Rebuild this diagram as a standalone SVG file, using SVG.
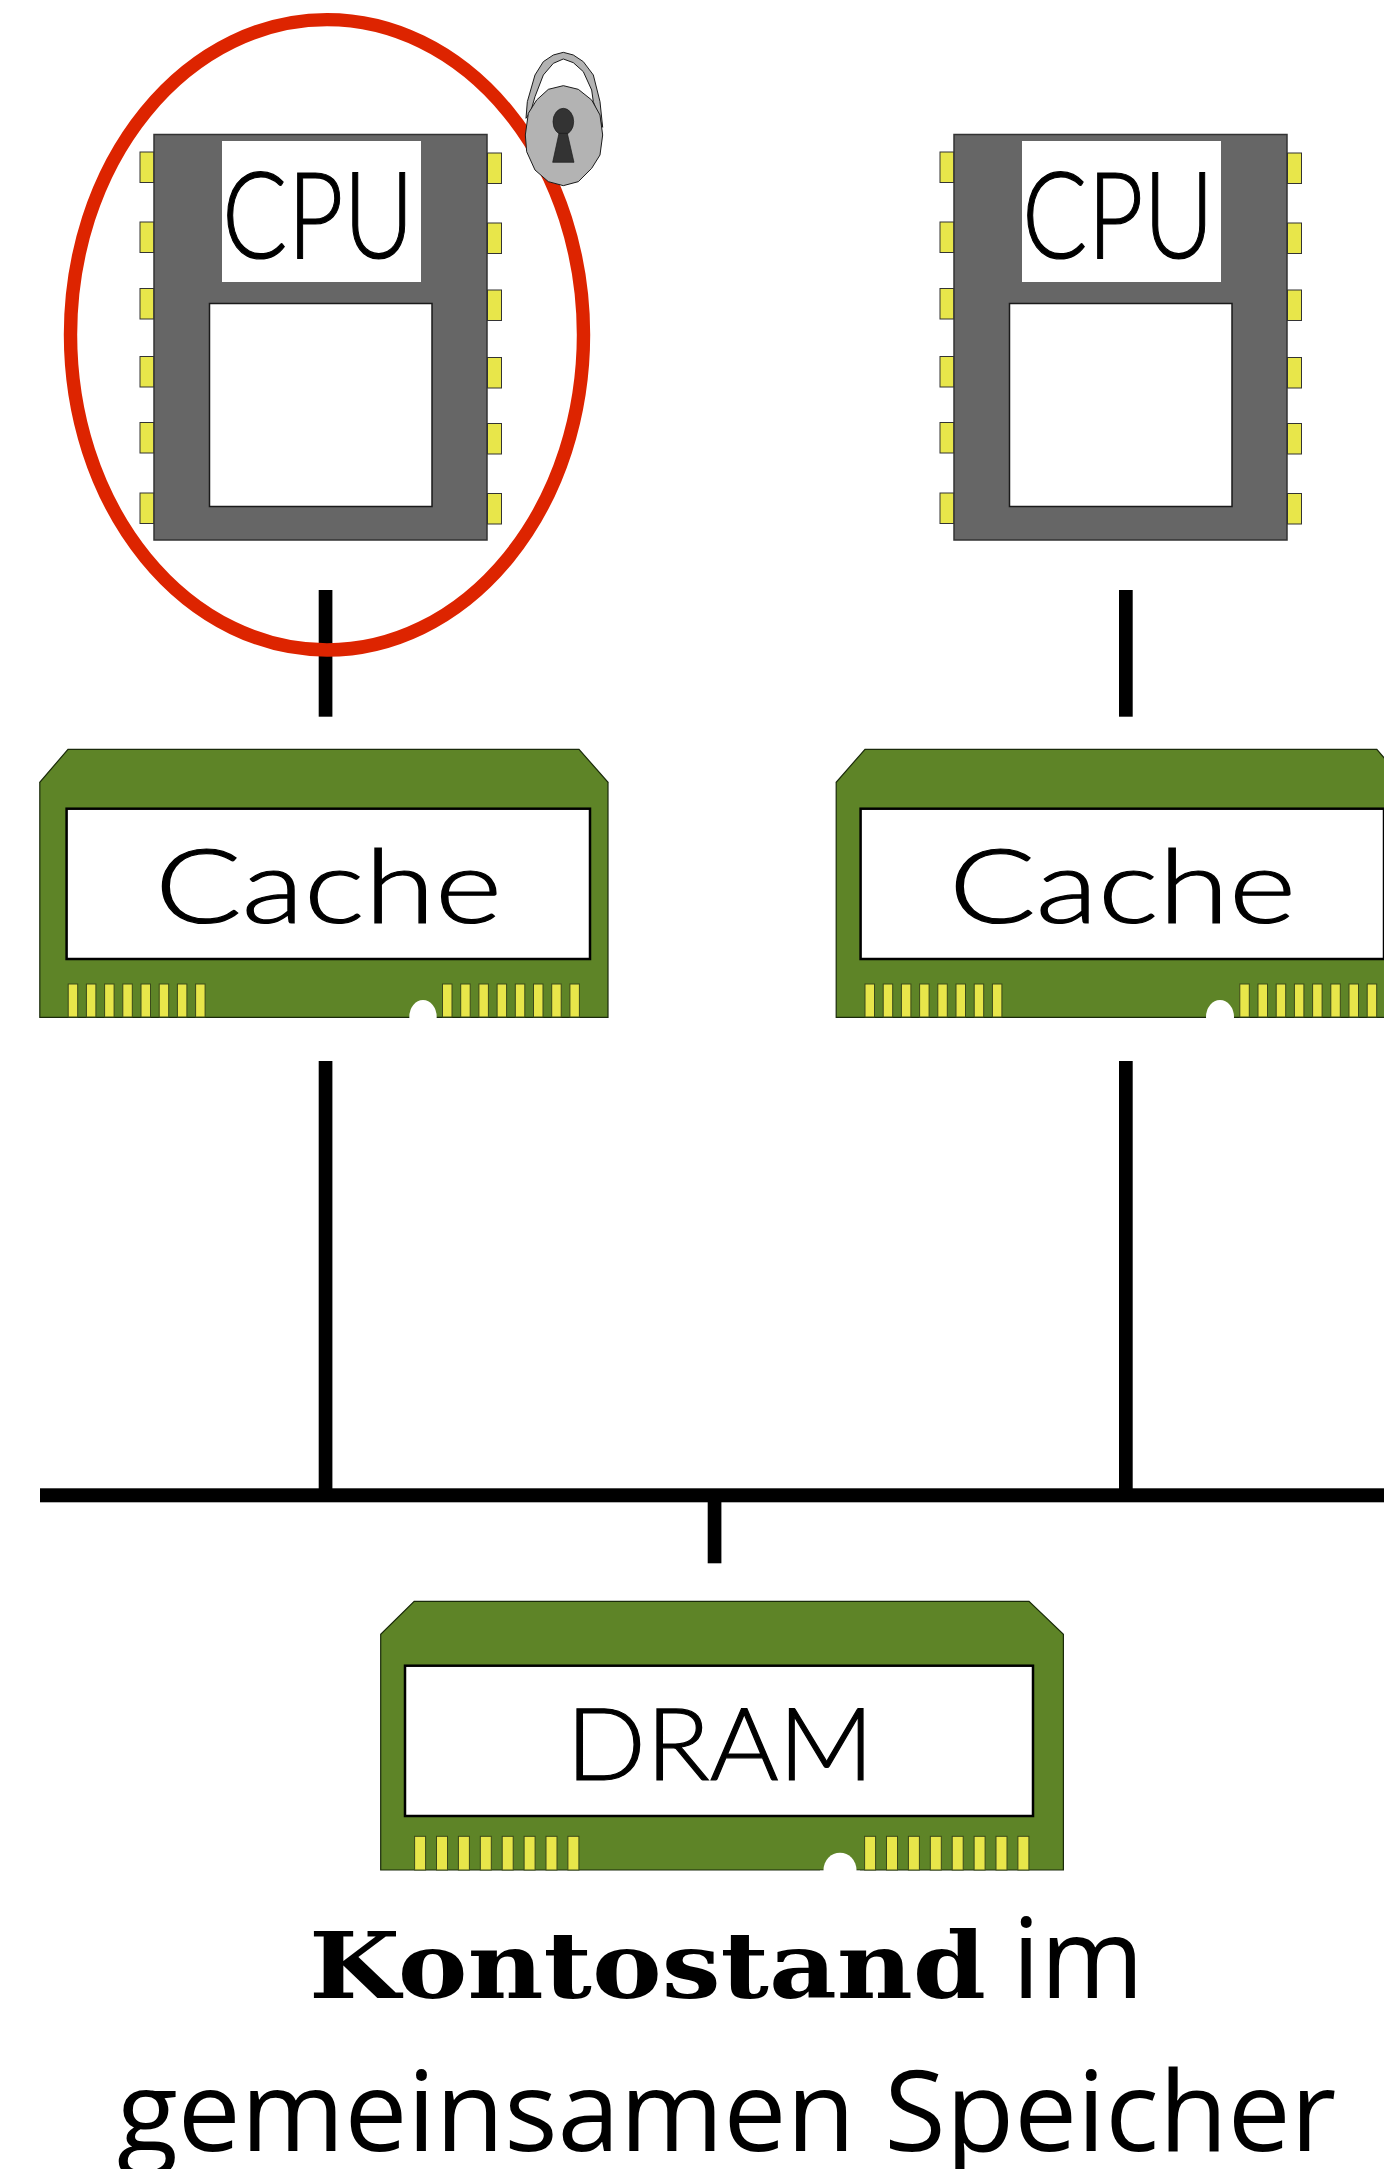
<svg xmlns="http://www.w3.org/2000/svg" width="1384" height="2169" viewBox="0 0 1384 2169">
<style>
.body{fill:#666666;stroke:#333333;stroke-width:1.5}
.pin{fill:#e8e64a;stroke:#333333;stroke-width:1}
.win{fill:#ffffff;stroke:#1a1a1a;stroke-width:1.5}
.board{fill:#5e8427;stroke:#1a2a0a;stroke-width:1.2}
.panel{fill:#ffffff;stroke:#000000;stroke-width:2.5}
.gpin{fill:#e8e64a;stroke:#3a4a1a;stroke-width:1}
.bus{fill:#000000}
.lbl{font-family:"Lato","Liberation Sans",sans-serif;fill:#000000;stroke:#000000;stroke-width:1.2;font-weight:300}
.cap{font-size:112px;font-family:"Open Sans","Noto Sans",sans-serif;fill:#000000}
.mono{font-family:"DejaVu Serif","Liberation Mono",serif;font-weight:700;font-size:91px;fill:#000000}
</style>
<defs>
<g id="cpu">
<rect class="pin" x="140" y="152" width="14" height="30.5"/><rect class="pin" x="140" y="222" width="14" height="30.5"/><rect class="pin" x="140" y="288.5" width="14" height="30.5"/><rect class="pin" x="140" y="356.5" width="14" height="30.5"/><rect class="pin" x="140" y="422.5" width="14" height="30.5"/><rect class="pin" x="140" y="493" width="14" height="30.5"/>
<rect class="pin" x="487.5" y="153" width="14" height="30.5"/><rect class="pin" x="487.5" y="223" width="14" height="30.5"/><rect class="pin" x="487.5" y="290" width="14" height="30.5"/><rect class="pin" x="487.5" y="357.5" width="14" height="30.5"/><rect class="pin" x="487.5" y="423.5" width="14" height="30.5"/><rect class="pin" x="487.5" y="493.5" width="14" height="30.5"/>
<rect class="body" x="154" y="134.5" width="333" height="405.5"/>
<rect x="222" y="141" width="199" height="141" fill="#ffffff"/>
<rect class="win" x="209.5" y="303.5" width="222.5" height="203"/>
</g>
<g id="cachepins">
<rect class="gpin" x="0" y="0" width="9.5" height="33"/><rect class="gpin" x="18.2" y="0" width="9.5" height="33"/><rect class="gpin" x="36.4" y="0" width="9.5" height="33"/><rect class="gpin" x="54.6" y="0" width="9.5" height="33"/><rect class="gpin" x="72.8" y="0" width="9.5" height="33"/><rect class="gpin" x="91" y="0" width="9.5" height="33"/><rect class="gpin" x="109.2" y="0" width="9.5" height="33"/><rect class="gpin" x="127.4" y="0" width="9.5" height="33"/>
</g>
<g id="drampins">
<rect class="gpin" x="0" y="0" width="11" height="33.7"/><rect class="gpin" x="21.9" y="0" width="11" height="33.7"/><rect class="gpin" x="43.8" y="0" width="11" height="33.7"/><rect class="gpin" x="65.7" y="0" width="11" height="33.7"/><rect class="gpin" x="87.6" y="0" width="11" height="33.7"/><rect class="gpin" x="109.5" y="0" width="11" height="33.7"/><rect class="gpin" x="131.4" y="0" width="11" height="33.7"/><rect class="gpin" x="153.3" y="0" width="11" height="33.7"/>
</g>
</defs>
<g id="connectors">
<rect class="bus" x="318.7" y="590" width="13.7" height="126.7"/>
<rect class="bus" x="1119" y="590" width="13.7" height="126.7"/>
<rect class="bus" x="318.7" y="1061" width="13.7" height="434"/>
<rect class="bus" x="1119" y="1061" width="13.7" height="434"/>
<rect class="bus" x="40" y="1488.3" width="1344" height="14"/>
<rect class="bus" x="707.7" y="1500" width="13.7" height="63.3"/>
</g>
<g id="cpu1">
<use href="#cpu"/>
<text class="lbl" x="222" y="258" font-size="120" textLength="192" lengthAdjust="spacingAndGlyphs">CPU</text>
</g>
<g id="cpu2">
<use href="#cpu" x="800"/>
<text class="lbl" x="1022" y="258" font-size="120" textLength="192" lengthAdjust="spacingAndGlyphs">CPU</text>
</g>
<g id="highlight">
<ellipse cx="327" cy="334.8" rx="256.5" ry="315.2" fill="none" stroke="#dd2400" stroke-width="13.4"/>
</g>
<g id="lock" transform="translate(510 40) scale(0.3333)">
<path d="M48 235L52 185L75 105L100 65L130 45L160 37L190 45L220 65L250 105L270 185L278 262L250 185L245 150L220 95L190 68L160 57L130 70L100 105L75 170L62 215Z" fill="#b3b3b3" stroke="#1a1a1a" stroke-width="3"/>
<path d="M160 137L205 148L245 180L270 225L278 285L270 345L245 385L205 425L160 437L115 425L75 390L50 335L46 285L55 220L80 180L115 148Z" fill="#b3b3b3" stroke="#1a1a1a" stroke-width="3"/>
<ellipse cx="160" cy="245" rx="31" ry="40" fill="#333333" stroke="#1a1a1a" stroke-width="2"/>
<path d="M147 280L172 280L192 367L128 367Z" fill="#333333" stroke="#1a1a1a" stroke-width="2"/>
</g>
<g id="cache1">
<path class="board" d="M68 749.3L579 749.3L608 782.3L608 1017.3L39.8 1017.3L39.8 782.3Z"/>
<rect class="panel" x="66.6" y="808.7" width="523.4" height="150.3"/>
<use href="#cachepins" x="68.2" y="984"/><use href="#cachepins" x="442.5" y="984"/>
<ellipse cx="423" cy="1017" rx="13.7" ry="17" fill="#ffffff"/>
<rect x="405" y="1018" width="40" height="20" fill="#ffffff"/>
<text class="lbl" x="155" y="922.7" font-size="103" textLength="347" lengthAdjust="spacingAndGlyphs">Cache</text>
</g>
<g id="cache2">
<path class="board" d="M865 749.3L1376.8 749.3L1405 782.3L1405 1017.3L836.2 1017.3L836.2 782.3Z"/>
<rect class="panel" x="860.6" y="808.7" width="523.4" height="150.3"/>
<use href="#cachepins" x="865" y="984"/><use href="#cachepins" x="1239.8" y="984"/>
<ellipse cx="1220" cy="1017" rx="14" ry="17" fill="#ffffff"/>
<rect x="1200" y="1018" width="40" height="20" fill="#ffffff"/>
<text class="lbl" x="949" y="922.7" font-size="103" textLength="347" lengthAdjust="spacingAndGlyphs">Cache</text>
</g>
<g id="dram">
<path class="board" d="M414.2 1601.3L1029 1601.3L1063.4 1634.3L1063.4 1870L380.7 1870L380.7 1634.3Z"/>
<rect class="panel" x="405" y="1665.7" width="628" height="150.3"/>
<use href="#drampins" x="414.6" y="1836.3"/><use href="#drampins" x="864.6" y="1836.3"/>
<ellipse cx="840" cy="1870" rx="16.5" ry="17.3" fill="#ffffff"/>
<rect x="820" y="1870.6" width="40" height="20" fill="#ffffff"/>
<text class="lbl" x="566" y="1780" font-size="101" textLength="308" lengthAdjust="spacingAndGlyphs">DRAM</text>
</g>
<g id="caption">
<text class="mono" x="309" y="1998" textLength="677" lengthAdjust="spacingAndGlyphs">Kontostand</text>
<text class="cap" x="1012" y="1998">im</text>
<text class="cap" x="117" y="2150.7">gemeinsamen Speicher</text>
</g>
</svg>
